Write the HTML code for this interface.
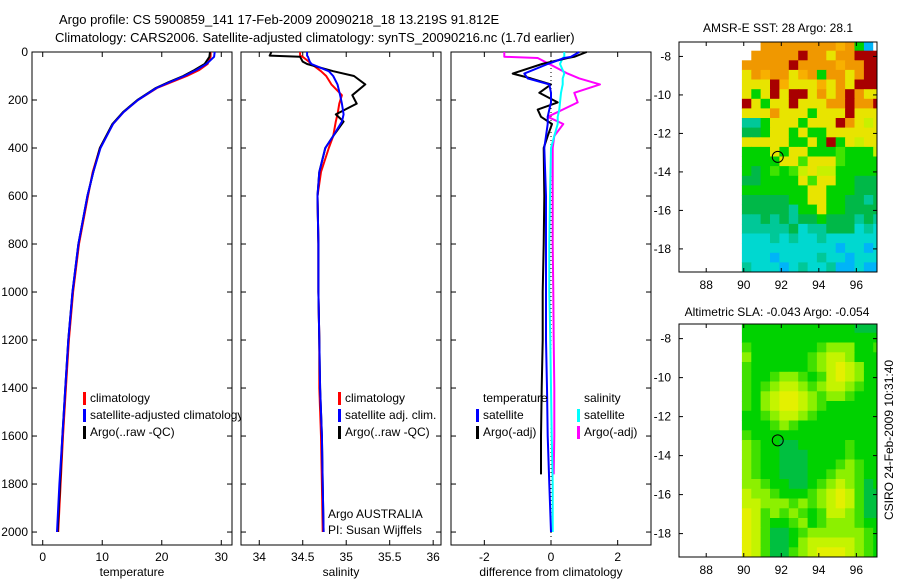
<!DOCTYPE html>
<html><head><meta charset="utf-8"><style>
body{margin:0;background:#fff;width:900px;height:580px;overflow:hidden}
svg text{font-family:"Liberation Sans",sans-serif;font-size:12px;fill:#000}
</style></head><body>
<svg id="fig" width="900" height="580" xmlns="http://www.w3.org/2000/svg">
<text x="59" y="24" font-size="13" style="font-size:13px">Argo profile: CS 5900859_141 17-Feb-2009 20090218_18 13.219S 91.812E</text>
<text x="55" y="42" style="font-size:13px">Climatology: CARS2006. Satellite-adjusted climatology: synTS_20090216.nc (1.7d earlier)</text>
<text x="778" y="32" text-anchor="middle">AMSR-E SST: 28 Argo: 28.1</text>
<text x="777" y="316" text-anchor="middle">Altimetric SLA: -0.043 Argo: -0.054</text>
<text transform="translate(893,440) rotate(-90)" text-anchor="middle">CSIRO 24-Feb-2009 10:31:40</text>
<g id="g"></g>
</svg>
<script>
// ---- data ----
const tempDepths=[0,20,50,75,100,125,150,200,250,300,400,500,600,800,1000,1200,1400,1600,1800,2000];
const tempArgo=[28.1,28.0,27.2,25.5,23.6,21.2,19,15.9,13.5,11.7,9.6,8.5,7.5,6,5,4.3,3.8,3.3,2.9,2.5];
const tempClim=[28.2,28.2,27.7,26.3,24.2,21.7,19.2,16,13.6,11.8,9.6,8.4,7.6,6.1,5.1,4.4,3.9,3.4,3.0,2.6];
const tempSat=[28.9,28.8,27.5,25.8,23.8,21.4,19.1,16,13.6,11.8,9.7,8.5,7.5,6,5,4.3,3.8,3.3,2.8,2.4];
const salDepths=[0,15,20,40,50,80,100,135,180,215,260,290,350,400,500,600,800,1000,1200,1400,1600,1800,2000];
const salArgo=[34.14,34.12,34.47,34.5,34.55,34.85,35.09,35.22,35.07,35.12,34.88,34.97,34.85,34.76,34.69,34.67,34.68,34.68,34.69,34.7,34.72,34.73,34.74];
const salClim=[34.47,34.47,34.5,34.57,34.6,34.71,34.77,34.83,34.95,34.92,34.9,34.88,34.85,34.8,34.71,34.67,34.68,34.68,34.69,34.69,34.71,34.72,34.73];
const salSat=[34.55,34.55,34.56,34.58,34.6,34.8,34.85,34.9,34.93,34.95,34.97,34.95,34.85,34.76,34.69,34.67,34.68,34.68,34.69,34.7,34.72,34.73,34.74];
const diffDepths=[0,20,25,50,90,110,135,170,210,240,270,300,350,400,600,800,1000,1200,1400,1600,1760];
const diffTempArgo=[1.07,0.7,0.5,-0.27,-1.15,-0.6,0,-0.35,0.2,-0.4,-0.3,0.03,-0.1,-0.22,-0.2,-0.22,-0.25,-0.25,-0.28,-0.3,-0.3];
const diffSalArgo=[-1.4,-1.4,-0.4,-0.05,0.5,0.85,1.47,0.7,0.8,0.35,-0.1,0.37,0.1,0.05,0.05,0.05,0.07,0.08,0.1,0.1,0.08];
const diffDepths2=[0,20,25,50,90,110,135,170,210,240,270,300,350,400,600,800,1000,1200,1400,1600,1800,2000];
const diffTempSat=[0.85,0.6,0.4,-0.1,-0.8,-0.7,-0.05,0,0,-0.05,-0.1,-0.1,-0.15,-0.2,-0.15,-0.15,-0.15,-0.15,-0.12,-0.1,-0.05,0];
const diffSalSat=[0.4,0.4,0.35,0.27,0.4,0.35,0.35,0.3,0.27,0.25,0.2,0.2,0.1,0,-0.03,-0.05,-0.05,-0.02,0,0.02,0.05,0.05];
const depthTicks=[0,200,400,600,800,1000,1200,1400,1600,1800,2000];
const tempTicks=[0,10,20,30];
const salTicks=[34,34.5,35,35.5,36];
const diffTicks=[-2,0,2];
const lonTicks=[88,90,92,94,96];
const latTicks=[-8,-10,-12,-14,-16,-18];
const sstGrid=["WWOOOOOOOOoOGBW","WOOOOOROOYOORRR","OOOOOROOOOoOORR","YOoOOYoOGOOYORR","YYYRoYYYoYOYRRR","YGYRYRRYOYOROYY","RYGYYRYYYOOROOR","YYYOYYYGYYYRYYY","TTGYYYGYYYROYyY","DDGYYGYGGYYYYYY","YYYYYGGYGRGYyYY","GGGYGYYGGGgGGGy","GGGGYYgYYYgGGGG","GDGgGgyYyyGGGGG","DDGGGGYgYYGGDDD","GGGGGGGYYGGGDDD","DDDDDGGYYGGDDTD","DDDDDTGGYGGDDDD","TTDTDTDDGDDDTDT","TTTTTDCTTDDDCTC","CCCTCTCCTCCCCCC","CCCCCCCCCCBCCBC","CCCBCCCCTCCBCCC","TCCCBCTCCTBBCBB"];
const slaGrid=["GGGGGGGGGGGGDDD","GGGGGGGGGGGGGGG","gGGGGGGGgLLLGGg","LGGGGGGgLYYLGGG","gGGGGGGgLYyYLGG","gGGgLLgGgYyYLGG","gGgLYYLgLYYLgGG","gGLYyyYLgLLgGGG","gGLYyyYLgGGGGGG","GGgLYYLgGGGGGGG","GGGgLgGGGGGGGGG","gGGGGGGGGGGGGGG","LgGGDDGGGGGgGGG","LgGGDDDGGGGgGGG","LgGGDDDGGGgLgGG","LgGGDDDGGgLLgGG","LLgGGDDGgLYLgDG","YLLgGGGgLYyYgDD","YYLLLgLgLYyYgDD","yYgLgLgGgYYLgDD","yYgGGgLGgLLLgGG","yYgDDGgLLLLLLgG","yYgDDGLYYYYYLgG","yYgDDgLYyyyYLgG"];
const argoLon=91.812, argoLat=-13.219;
// ---- helpers ----
const NS="http://www.w3.org/2000/svg", G=document.getElementById('g');
function mk(t,a,p){const e=document.createElementNS(NS,t);for(const k in a)e.setAttribute(k,a[k]);(p||G).appendChild(e);return e;}
const yTop=52, yBot=545, dMax=2054;
const yD=d=>yTop+(d/dMax)*(yBot-yTop);
function panel(name,x0,x1,vmin,vmax,ticks,fmt,xlabel,leftLabels){
  const sx=v=>x0+(v-vmin)/(vmax-vmin)*(x1-x0);
  const g=mk('g',{});
  
  
  const r=mk('rect',{x:x0,y:yTop,width:x1-x0,height:yBot-yTop,fill:'none',stroke:'#000','stroke-width':1},g);
  
  
  ticks.forEach(t=>{const x=sx(t);
    mk('line',{x1:x,x2:x,y1:yBot,y2:yBot-5,stroke:'#000'},g);mk('line',{x1:x,x2:x,y1:yTop,y2:yTop+5,stroke:'#000'},g);
    const tx=mk('text',{x:x,y:yBot+16,'text-anchor':'middle'},g);tx.textContent=fmt(t);
    
    });
  depthTicks.forEach(d=>{const y=yD(d);
    mk('line',{x1:x0,x2:x0+5,y1:y,y2:y,stroke:'#000'},g);mk('line',{x1:x1,x2:x1-5,y1:y,y2:y,stroke:'#000'},g);
    if(leftLabels){const tx=mk('text',{x:x0-4,y:y+4,'text-anchor':'end'},g);tx.textContent=d;
      
      }});
  const xl=mk('text',{x:(x0+x1)/2,y:yBot+31,'text-anchor':'middle'},g);xl.textContent=xlabel;
  
  
  return {sx,g};
}
function line(p,depths,vals,color,w,name){
  const pts=depths.map((d,i)=>p.sx(vals[i]).toFixed(1)+','+yD(d).toFixed(1)).join(' ');
  const l=mk('polyline',{points:pts,fill:'none',stroke:color,'stroke-width':w,'stroke-linejoin':'round'},p.g);
  
  
}
function legend(p,x,y,color,label,name){
  if(color){mk('rect',{x:x,y:y-10,width:3,height:13,fill:color},p.g);}
  const t=mk('text',{x:x+7,y:y},p.g);t.textContent=label;
  
  
}
// clip for panel 1 legend overflow
const cp=mk('clipPath',{id:'c1'});mk('rect',{x:0,y:0,width:241,height:580},cp);
// ---- panel 1 ----
const p1=panel('temperature-panel',32,232,-1.8,31.8,tempTicks,v=>v,'temperature',true);
line(p1,tempDepths,tempClim,'#f00',2,'temp-climatology-line');
line(p1,tempDepths,tempArgo,'#000',2,'temp-argo-line');
line(p1,tempDepths,tempSat,'#00f',2,'temp-satellite-line');
const lg1=mk('g',{'clip-path':'url(#c1)'},p1.g);const p1l={sx:p1.sx,g:lg1};
legend(p1l,83,402,'#f00','climatology','legend-climatology');
legend(p1l,83,419,'#00f','satellite-adjusted climatology','legend-satellite-adjusted');
legend(p1l,83,436,'#000','Argo(..raw -QC)','legend-argo');
// ---- panel 2 ----
const p2=panel('salinity-panel',241,441,33.79,36.09,salTicks,v=>v,'salinity',false);
line(p2,salDepths,salClim,'#f00',2,'sal-climatology-line');
line(p2,salDepths,salArgo,'#000',2,'sal-argo-line');
line(p2,salDepths,salSat,'#00f',2,'sal-satellite-line');
legend(p2,338,402,'#f00','climatology','legend-climatology');
legend(p2,338,419,'#00f','satellite adj. clim.','legend-satellite-adj');
legend(p2,338,436,'#000','Argo(..raw -QC)','legend-argo');
legend(p2,321,518,null,'Argo AUSTRALIA','argo-australia-note');
legend(p2,321,534,null,'PI: Susan Wijffels','pi-note');
// ---- panel 3 ----
const p3=panel('difference-panel',451,651,-3,3,diffTicks,v=>v,'difference from climatology',false);
mk('line',{x1:p3.sx(0),x2:p3.sx(0),y1:yTop,y2:yBot,stroke:'#000','stroke-dasharray':'1,3','stroke-width':1},p3.g);
line(p3,diffDepths,diffSalArgo,'#f0f',2,'diff-sal-argo-line');
line(p3,diffDepths2,diffSalSat,'#0ff',2,'diff-sal-satellite-line');
line(p3,diffDepths,diffTempArgo,'#000',2,'diff-temp-argo-line');
line(p3,diffDepths2,diffTempSat,'#00f',2,'diff-temp-satellite-line');
legend(p3,476,402,null,'temperature','legend-temperature-header');
legend(p3,476,419,'#00f','satellite','legend-temp-satellite');
legend(p3,476,436,'#000','Argo(-adj)','legend-temp-argo');
legend(p3,577,402,null,'salinity','legend-salinity-header');
legend(p3,577,419,'#0ff','satellite','legend-sal-satellite');
legend(p3,577,436,'#f0f','Argo(-adj)','legend-sal-argo');
// ---- maps ----
const pal={R:'#a80000',O:'#f09800',o:'#f8b000',Y:'#e8e400',y:'#c8f000',G:'#00d200',g:'#40e400',D:'#00b848',T:'#00c898',C:'#00d8d0',B:'#00b4f8',W:'#ffffff',L:'#90f000'};
const slaPal={G:'#00d200',g:'#40e000',L:'#8cf000',Y:'#c4f400',y:'#e4f000',D:'#00c040'};
function map(name,top,bot,grid,palette){
  const x0=679,x1=877,lon0=86.55,lon1=97.1,lat0=-7.25,lat1=-19.2;
  const sx=v=>x0+(v-lon0)/(lon1-lon0)*(x1-x0), sy=v=>top+(v-lat0)/(lat1-lat0)*(bot-top);
  const g=mk('g',{});
  
  
  const cid='cl'+name;const c=mk('clipPath',{id:cid});mk('rect',{x:x0,y:top,width:x1-x0,height:bot-top},c);
  const cg=mk('g',{'clip-path':'url(#'+cid+')'},g);
  grid.forEach((row,i)=>{[...row].forEach((ch,j)=>{
    const la=-7.2-0.5*i, lo=89.9+0.5*j;
    const x=sx(lo),y=sy(la),w=sx(lo+0.5)-x,h=sy(la-0.5)-y;
    const r=mk('rect',{x:x.toFixed(1),y:y.toFixed(1),width:(w+0.5).toFixed(1),height:(h+0.5).toFixed(1),fill:palette[ch]||'#0c0'},cg);
    
    });});
  mk('rect',{x:x0,y:top,width:x1-x0,height:bot-top,fill:'none',stroke:'#000'},g);
  lonTicks.forEach(t=>{const x=sx(t);mk('line',{x1:x,x2:x,y1:bot,y2:bot-4,stroke:'#000'},g);mk('line',{x1:x,x2:x,y1:top,y2:top+4,stroke:'#000'},g);
    const tx=mk('text',{x:x,y:bot+17,'text-anchor':'middle'},g);tx.textContent=t;
    
    });
  latTicks.forEach(t=>{const y=sy(t);mk('line',{x1:x0,x2:x0+4,y1:y,y2:y,stroke:'#000'},g);mk('line',{x1:x1,x2:x1-4,y1:y,y2:y,stroke:'#000'},g);
    const tx=mk('text',{x:x0-8,y:y+4,'text-anchor':'end'},g);tx.textContent=t;
    
    });
  const ci=mk('circle',{cx:sx(argoLon),cy:sy(argoLat),r:5.5,fill:'none',stroke:'#000'},g);
  
  
}
map('sst-map',42,272,sstGrid,pal);
map('sla-map',324,557,slaGrid,slaPal);
</script>
</body></html>
